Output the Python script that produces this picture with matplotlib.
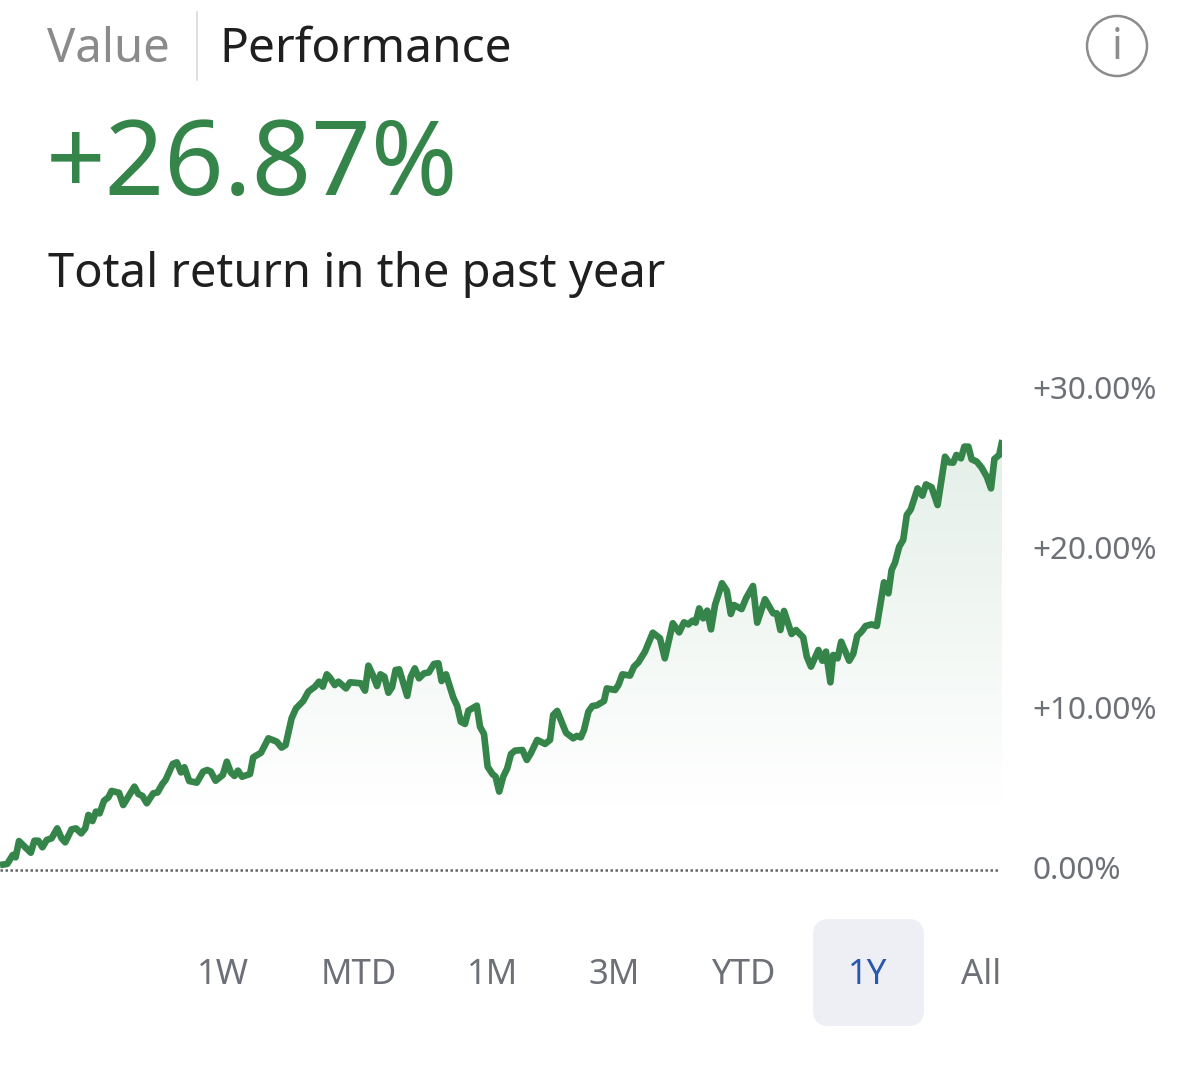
import numpy as np
import matplotlib
matplotlib.use("Agg")
import matplotlib.pyplot as plt
from matplotlib.patches import FancyBboxPatch, Circle, Polygon
from matplotlib.colors import LinearSegmentedColormap
from matplotlib.transforms import ScaledTranslation

plt.rcParams['font.family'] = ['Noto Sans', 'DejaVu Sans']

day = [0,1.8,3.2,3.9,4.75,7.7,8.6,9.6,10.6,11.7,12.9,14.3,15.4,16.3,17.9,19,20.3,21.3,22.1,23.1,24,24.9,26,27.1,27.9,29.75,30.8,33.6,34.6,35.6,36.7,38.3,39.4,40.6,41.4,43.2,44.2,45.25,46.1,47.3,49.2,50.8,51.8,52.7,53.9,55.7,56.7,57.7,58.6,59.5,60.5,62.5,63.3,65.25,67.1,69.2,70.4,71.4,72.9,74,75.8,77.1,78.75,79.75,80.7,81.7,
       82.5,83.7,84.6,86.5,87.5,90.2,91.25,92.1,93.2,94.25,95.1,96.1,97.1,98,98.9,99.8,101.8,102.7,103.7,104.75,106,107.2,108.5,109.6,110.4,111.5,113.3,114.3,115.2,116.25,117.1,119.2,120,121,121.9,123.1,123.9,124.8,125.8,126.8,127.75,128.75,130.6,131.7,132.7,134.3,136.25,137.5,138.3,139.3,141.5,143.3,144.2,145.2,146,147.1,148.1,149.2,151,151.7,153.75,154.6,155.6,157.5,158.5,159.6,161.25,163.2,165,166.2,
       168.2,169.8,171,172.1,173.1,173.9,174.8,175.8,176.8,177.75,178.75,180.5,181.7,182.7,183.5,185.4,186.5,188.25,189.3,191.25,193.3,194.2,195.1,196,197.9,199,200.8,201.7,202.75,204.6,205.6,206.5,207.6,208.3,209.4,210.3,212.3,213.3,214.3,215.4,216.4,217.9,219.2,221,222.1,222.9,223.75,224.8,225.8,226.7,227.7,229.4,230.6,231.5,232.9,234.4,236.25,237.25,238.3,239.1,240.25,241.1,242.1,242.9,244.2,245.4,246.7,247.75,248.6,249.8,250.6]
total_return = [0.31,0.38,0.94,0.79,1.81,1.08,1.83,1.83,1.42,1.88,1.98,2.60,1.98,1.73,2.54,2.60,2.29,2.60,3.44,3.06,3.65,3.54,4.33,4.54,4.94,4.83,4.06,5.21,4.75,4.63,4.17,4.79,4.85,5.38,5.63,6.63,6.73,6.10,6.42,5.56,5.46,6.15,6.25,6.15,5.58,5.94,6.77,6.10,5.88,6.21,5.83,6.0,7.04,7.33,8.23,8.02,7.65,7.81,9.48,10.10,10.56,11.15,11.46,11.77,11.46,12.23,
                12.02,11.56,11.77,11.35,11.73,11.67,11.21,12.77,12.19,11.5,12.23,12.08,11.08,11.42,12.5,12.54,10.88,12.08,12.6,11.98,12.29,12.35,12.88,12.92,11.81,12.23,10.79,10.25,9.27,9.13,9.96,10.27,8.96,8.5,6.46,6.0,5.83,4.90,5.83,6.35,7.25,7.46,7.5,6.88,7.29,8.13,7.88,8.13,9.69,9.94,8.58,8.23,8.38,8.29,8.75,9.90,10.25,10.29,10.56,11.35,11.25,11.56,12.23,12.15,12.71,12.98,13.65,14.83,14.48,13.23,
                15.42,14.85,15.48,15.35,15.58,15.46,16.35,15.73,16.21,15.04,16.56,17.92,17.46,16.0,16.56,16.31,16.98,17.75,15.46,16.92,16.04,16.04,15.0,16.19,14.75,15,14.54,13.33,12.71,13.75,13.08,13.65,11.73,13.44,13.23,14.27,13.08,13.5,14.63,14.90,15.25,15.35,15.25,17.98,17.29,18.75,19.21,20.21,20.63,22.19,22.54,23.85,23.40,24.10,23.92,22.81,25.83,25.48,25.46,25.94,25.73,26.46,26.46,25.67,25.52,25.15,24.58,23.85,25.69,25.94,26.87]
y_ticks = [0, 10, 20, 30]
y_labels = ['0.00%', '+10.00%', '+20.00%', '+30.00%']
ranges = ['1W', 'MTD', '1M', '3M', 'YTD', '1Y', 'All']

W, H = 1200, 1069
GREEN = '#35854a'
fig = plt.figure(figsize=(W/100, H/100), dpi=100, facecolor='white')

# overlay in pixel coordinates for header and range selector
ov = fig.add_axes([0, 0, 1, 1], zorder=0)
ov.set_xlim(0, W); ov.set_ylim(H, 0); ov.axis('off')

ov.text(47, 49, 'Value', fontsize=34, color='#8b8b8b', va='center', ha='left')
ov.plot([196.5, 196.5], [12, 80], color='#d9d9d9', lw=1.2)
ov.text(219, 49, 'Performance', fontsize=34.5, color='#1f1f1f', va='center', ha='left')
ov.add_patch(Circle((1117, 46), 30, fill=False, ec='#8c8c8c', lw=1.8))
ov.text(1117, 48, 'i', fontsize=30, color='#8c8c8c', va='center', ha='center')
ov.text(46, 168, '+26.87%', fontsize=75, color=GREEN, va='center', ha='left')
ov.text(48, 275, 'Total return in the past year', fontsize=33.9, color='#1f1f1f', va='center', ha='left')

ov.add_patch(FancyBboxPatch((813, 919), 111, 107, boxstyle='round,pad=0,rounding_size=16',
                            mutation_aspect=1, fc='#eeeff5', ec='none', lw=0))
range_x = [223, 359, 493, 614, 743, 868, 981]
for lab, x in zip(ranges, range_x):
    ov.text(x, 975, lab, fontsize=25, ha='center', va='center',
            color='#2a58ad' if lab == '1Y' else '#6d7076')

# chart
ax = fig.add_axes([0, 1 - 870/H, 1002/W, 480/H], zorder=1)
ax.patch.set_alpha(0)
ax.set_xlim(0, 250.5)
ax.set_ylim(0, 30)
for s in ax.spines.values():
    s.set_visible(False)
ax.set_xticks([])
ax.yaxis.tick_right()
ax.set_yticks(y_ticks)
ax.set_yticklabels(y_labels, fontsize=22.7, color='#6d7076')
ax.tick_params(axis='y', length=0, pad=22)
shift = ScaledTranslation(0, 2.5/100, fig.dpi_scale_trans)
for t in ax.get_yticklabels():
    t.set_transform(t.get_transform() + shift)

cmap = LinearSegmentedColormap.from_list('g', [(0.894, 0.937, 0.910, 1), (1, 1, 1, 1)])
grad = np.linspace(0, 1, 256).reshape(-1, 1)
im = ax.imshow(grad, extent=[0, 250.5, 4.0, 27], origin='upper', aspect='auto', cmap=cmap, zorder=1)
poly = Polygon(list(zip(day, total_return)) + [(day[-1], 0), (day[0], 0)],
               closed=True, transform=ax.transData, fc='none', ec='none')
ax.add_patch(poly)
im.set_clip_path(poly)
ax.set_xlim(0, 250.5); ax.set_ylim(0, 30)

ax.plot([0, 250], [0, 0], color='#666666', lw=1.8, linestyle=(0, (1, 1)), clip_on=False,
        dash_capstyle='butt', zorder=2)
ax.plot(day, total_return, color=GREEN, lw=4.8, solid_joinstyle='round', solid_capstyle='butt', zorder=3)

fig.savefig('out.png', dpi=100, facecolor='white')
